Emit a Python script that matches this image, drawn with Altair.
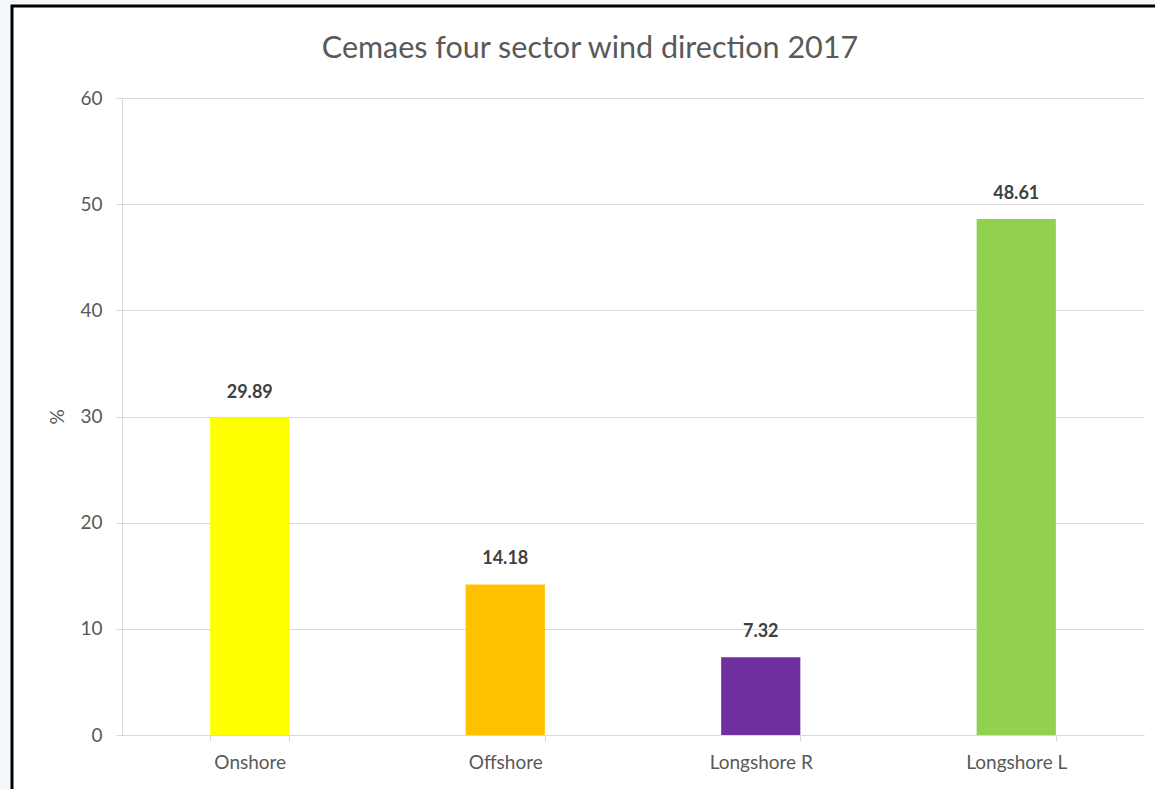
import altair as alt
import pandas as pd

categories = ["Onshore", "Offshore", "Longshore R", "Longshore L"]
values = [29.89, 14.18, 7.32, 48.61]
colors = ["#FFFF00", "#FFC000", "#7030A0", "#92D050"]
y_ticks = [0, 10, 20, 30, 40, 50, 60]
title_text = "Cemaes four sector wind direction 2017"

df = pd.DataFrame({"cat": categories, "val": values, "label": [f"{v:.2f}" for v in values]})

W, H = 1022, 637
FONT = "Lato"
one = pd.DataFrame({"a": [0]})

strip_left = alt.Chart(one).mark_rect(fill="#f3f8fa").encode(
    x=alt.value(-122), x2=alt.value(-111), y=alt.value(-98), y2=alt.value(H + 60)
)
strip_top = alt.Chart(one).mark_rect(fill="#f3f8fa").encode(
    x=alt.value(-122), x2=alt.value(W + 20), y=alt.value(-98), y2=alt.value(-93)
)
frame = alt.Chart(one).mark_rect(
    fill=None, stroke="black", strokeWidth=3
).encode(
    x=alt.value(-110), x2=alt.value(W + 40), y=alt.value(-92), y2=alt.value(H + 80)
)
title = alt.Chart(pd.DataFrame({"t": [title_text]})).mark_text(
    font=FONT, fontSize=30.5, color="#595959", align="center", baseline="middle"
).encode(
    x=alt.value(468), y=alt.value(-49), text="t:N"
)

x_enc = alt.X("cat:N", sort=categories, title=None,
              scale=alt.Scale(paddingInner=0.69, paddingOuter=0.345),
              axis=alt.Axis(labelAngle=0, tickBand="extent", domainColor="#d9d9d9",
                            tickColor="#d9d9d9", tickSize=6, labelPadding=12,
                            labelFont=FONT, labelFontSize=19, labelColor="#595959", grid=False))

bars = alt.Chart(df).mark_bar().encode(
    x=x_enc,
    y=alt.Y("val:Q", title="%", scale=alt.Scale(domain=[0, 60]),
            axis=alt.Axis(values=y_ticks, gridColor="#d9d9d9", domainColor="#d9d9d9",
                          tickColor="#d9d9d9", tickSize=6, labelPadding=14,
                          labelFont=FONT, labelFontSize=19, labelColor="#595959",
                          titleFont=FONT, titleFontSize=19, titleColor="#595959",
                          titleFontWeight="normal", titlePadding=12)),
    color=alt.Color("cat:N", sort=categories,
                    scale=alt.Scale(domain=categories, range=colors), legend=None),
)

labels = alt.Chart(df).mark_text(
    font=FONT, fontSize=18, fontWeight="bold", color="#404040", dy=-16, baseline="bottom"
).encode(
    x=alt.X("cat:N", sort=categories),
    y="val:Q",
    text="label:N",
)

chart = alt.layer(strip_left, strip_top, frame, title, bars, labels).properties(
    width=W, height=H,
    background="white",
    padding={"left": 122, "top": 98, "right": 11, "bottom": 54},
    autosize=alt.AutoSizeParams(type="none"),
).configure_view(stroke=None)

chart.save("out.html", embed_options={"renderer": "svg", "actions": False})
